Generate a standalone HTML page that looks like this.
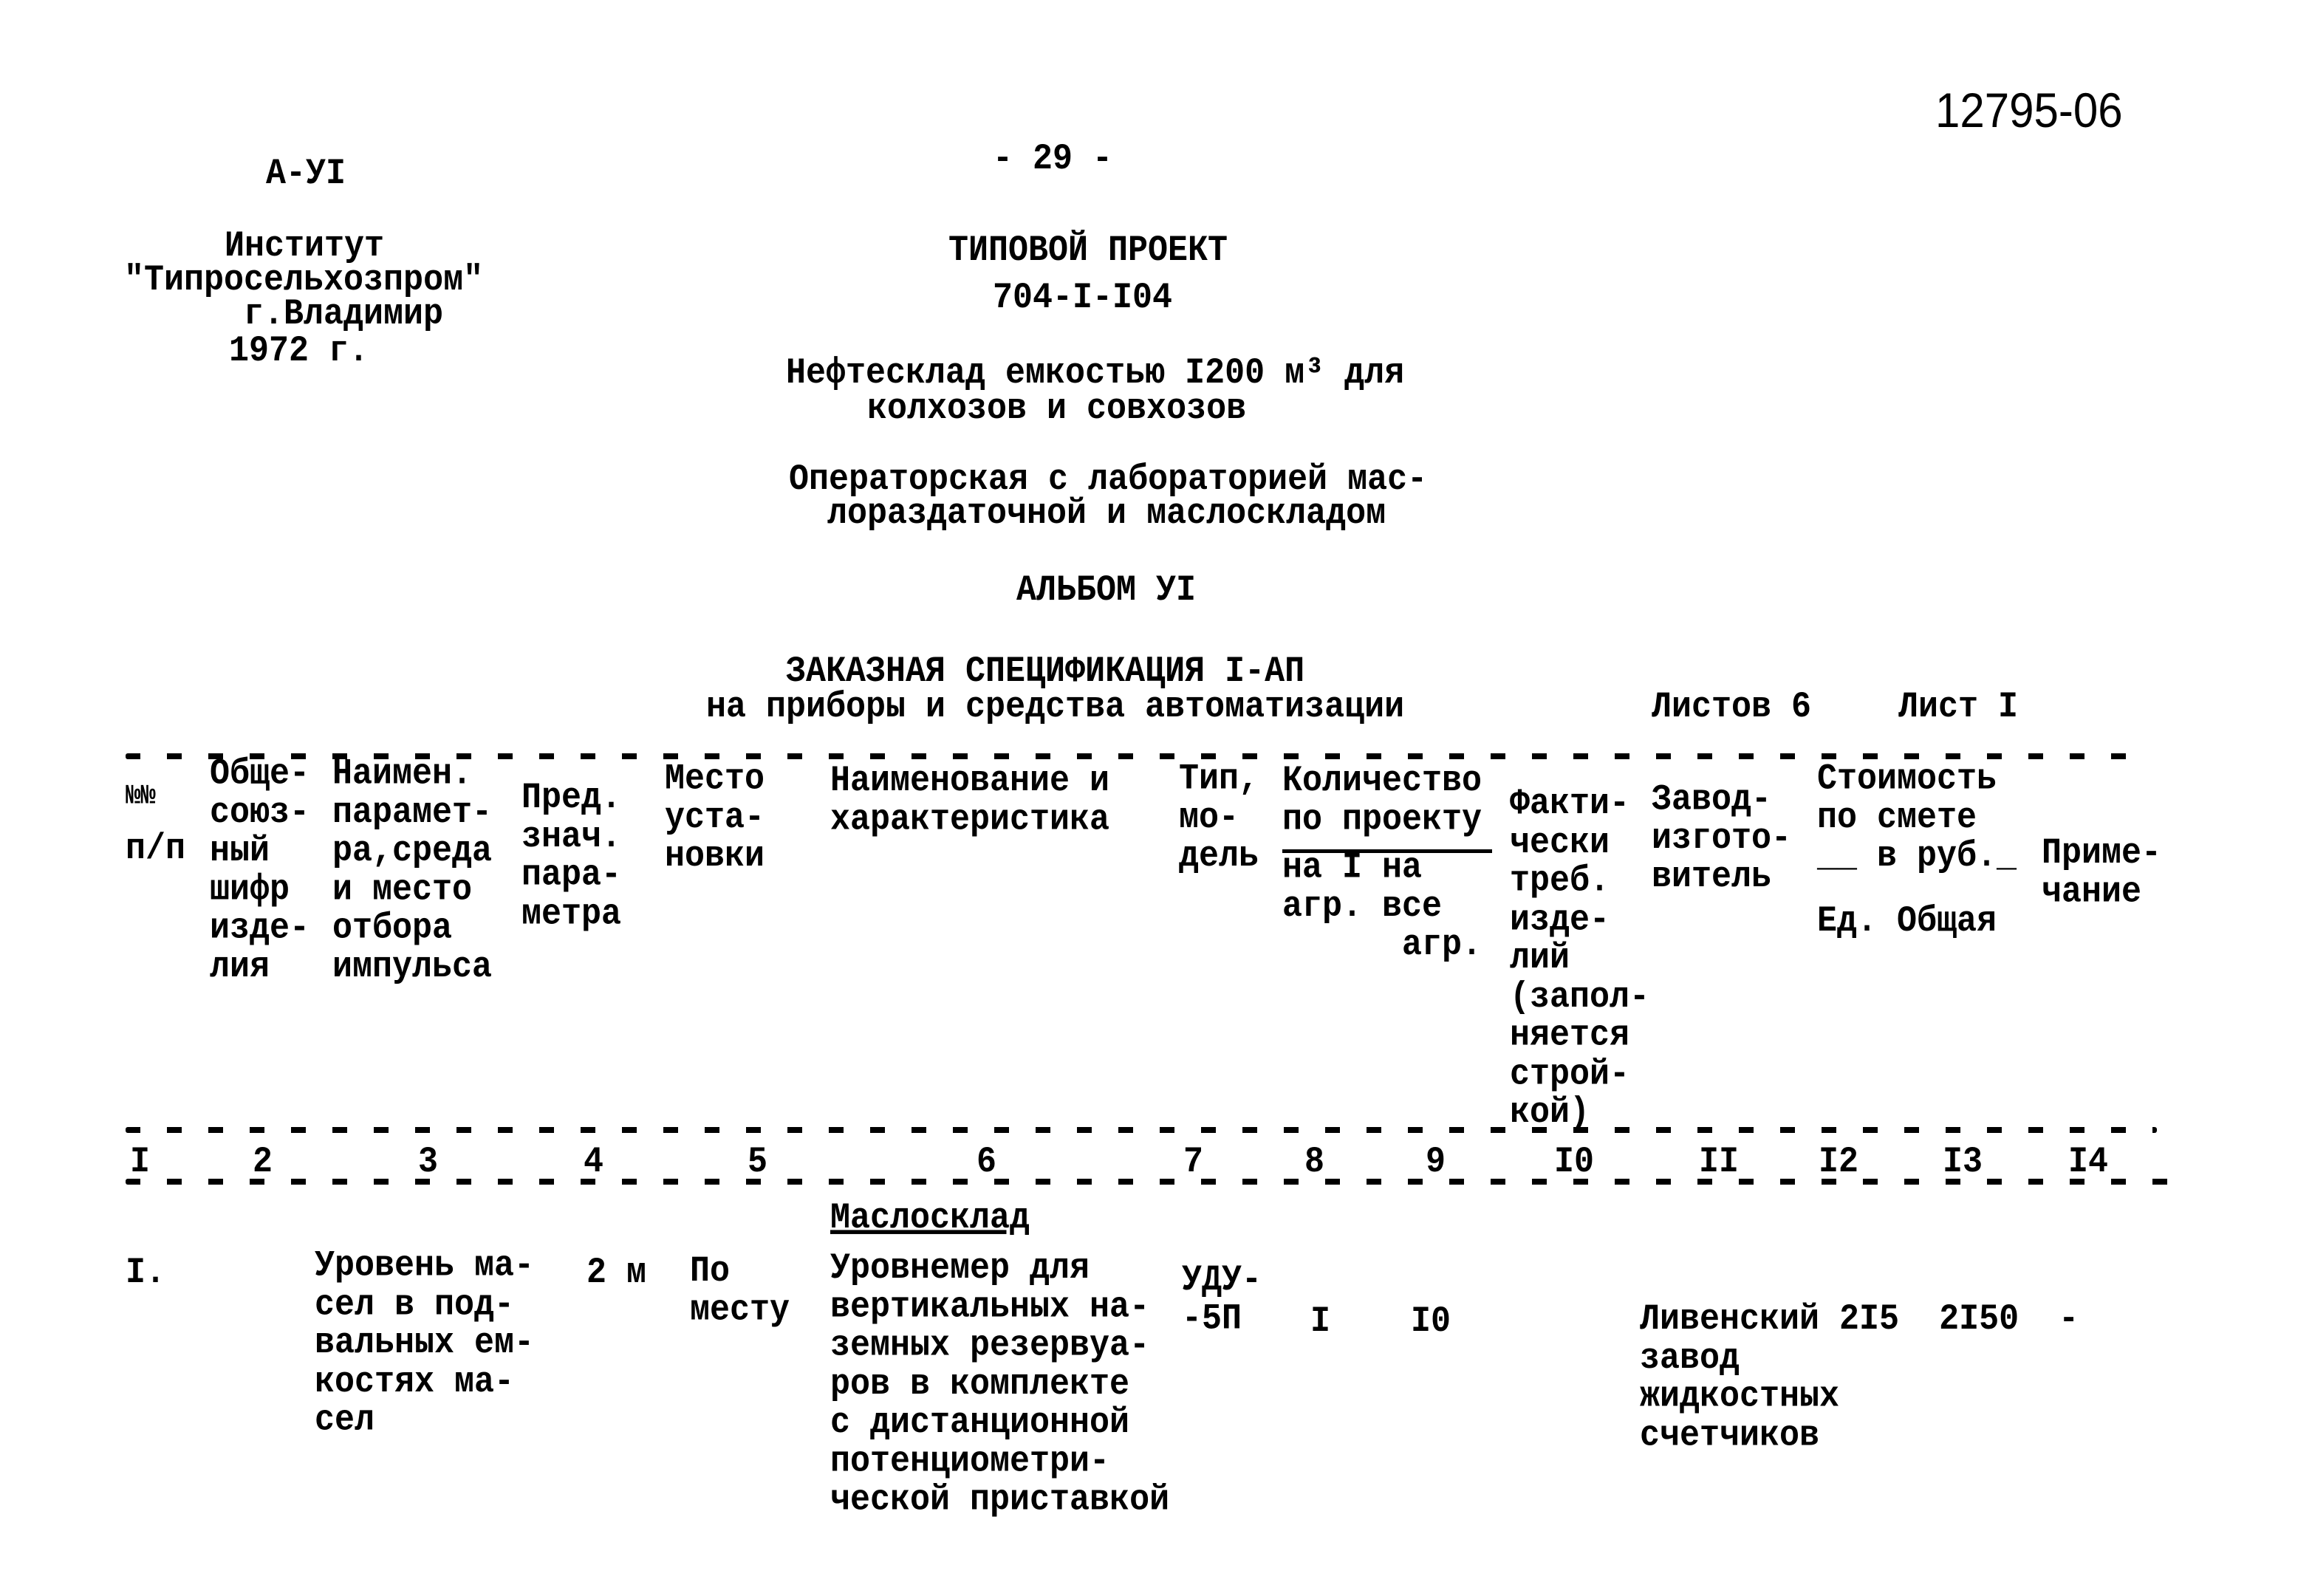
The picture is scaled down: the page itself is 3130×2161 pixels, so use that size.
<!DOCTYPE html>
<html><head><meta charset="utf-8"><style>
body{margin:0;width:3130px;height:2161px;background:#fff;position:relative;overflow:hidden;font-family:"Liberation Mono","DejaVu Sans Mono",monospace;font-weight:bold;color:#000}
.t{position:absolute;font-size:45px;line-height:47.5px;white-space:pre;transform:scaleY(1.1);transform-origin:left center}
.d{position:absolute;height:8px;border-radius:3px;background:repeating-linear-gradient(90deg,#000 0 20px,transparent 20px 56px)}
</style></head><body>
<div class="t" style="left:2620px;top:120px;font-size:60px;line-height:60px;font-family:'Liberation Sans',sans-serif;font-weight:normal">12795-06</div>
<div class="t" style="left:360px;top:212px">А-УI</div>
<div class="t" style="left:1344px;top:192px">- 29 -</div>
<div class="t" style="left:304px;top:310px">Институт</div>
<div class="t" style="left:168px;top:356px">"Типросельхозпром"</div>
<div class="t" style="left:330px;top:402px">г.Владимир</div>
<div class="t" style="left:310px;top:452px">1972 г.</div>
<div class="t" style="left:1284px;top:316px">ТИПОВОЙ ПРОЕКТ</div>
<div class="t" style="left:1344px;top:380px">704-I-I04</div>
<div class="t" style="left:1064px;top:482px">Нефтесклад емкостью I200 м³ для</div>
<div class="t" style="left:1174px;top:530px">колхозов и совхозов</div>
<div class="t" style="left:1068px;top:626px">Операторская с лабораторией мас-</div>
<div class="t" style="left:1120px;top:672px">лораздаточной и маслоскладом</div>
<div class="t" style="left:1376px;top:776px">АЛЬБОМ УI</div>
<div class="t" style="left:1064px;top:886px">ЗАКАЗНАЯ СПЕЦИФИКАЦИЯ I-АП</div>
<div class="t" style="left:956px;top:934px">на приборы и средства автоматизации</div>
<div class="t" style="left:2236px;top:934px">Листов 6</div>
<div class="t" style="left:2570px;top:934px">Лист I</div>

<div class="d" style="left:170px;top:1020px;width:2740px"></div>
<div class="d" style="left:170px;top:1526px;width:2750px"></div>
<div class="d" style="left:170px;top:1596px;width:2770px"></div>

<div class="t" style="left:170px;top:1056px;font-size:34px">№№</div>
<div class="t" style="left:170px;top:1126px">п/п</div>
<div class="t" style="left:284px;top:1036px">Обще-
союз-
ный
шифр
изде-
лия</div>
<div class="t" style="left:450px;top:1036px">Наимен.
парамет-
ра,среда
и место
отбора
импульса</div>
<div class="t" style="left:706px;top:1064px">Пред.
знач.
пара-
метра</div>
<div class="t" style="left:900px;top:1036px">Место
уста-
новки</div>
<div class="t" style="left:1124px;top:1036px">Наименование и
характеристика</div>
<div class="t" style="left:1596px;top:1036px">Тип,
мо-
дель</div>
<div class="t" style="left:1736px;top:1036px">Количество
по проекту</div>
<div style="position:absolute;left:1736px;top:1150px;width:284px;height:5px;background:#000"></div>
<div class="t" style="left:1736px;top:1156px">на I на
агр. все
      агр.</div>
<div class="t" style="left:2044px;top:1084px">Факти-
чески
треб.
изде-
лий
(запол-
няется
строй-
кой)</div>
<div class="t" style="left:2236px;top:1064px">Завод-
изгото-
витель</div>
<div class="t" style="left:2460px;top:1036px">Стоимость
по смете
__ в руб._</div>
<div class="t" style="left:2460px;top:1224px">Ед. Общая</div>
<div class="t" style="left:2764px;top:1134px">Приме-
чание</div>

<div class="t" style="left:176px;top:1550px">I</div>
<div class="t" style="left:342px;top:1550px">2</div>
<div class="t" style="left:566px;top:1550px">3</div>
<div class="t" style="left:790px;top:1550px">4</div>
<div class="t" style="left:1012px;top:1550px">5</div>
<div class="t" style="left:1322px;top:1550px">6</div>
<div class="t" style="left:1602px;top:1550px">7</div>
<div class="t" style="left:1766px;top:1550px">8</div>
<div class="t" style="left:1930px;top:1550px">9</div>
<div class="t" style="left:2104px;top:1550px">I0</div>
<div class="t" style="left:2300px;top:1550px">II</div>
<div class="t" style="left:2462px;top:1550px">I2</div>
<div class="t" style="left:2630px;top:1550px">I3</div>
<div class="t" style="left:2800px;top:1550px">I4</div>

<div class="t" style="left:1124px;top:1626px;text-decoration:underline;text-decoration-thickness:5px">Маслосклад</div>
<div class="t" style="left:170px;top:1700px">I.</div>
<div class="t" style="left:426px;top:1700px">Уровень ма-
сел в под-
вальных ем-
костях ма-
сел</div>
<div class="t" style="left:794px;top:1700px">2 м</div>
<div class="t" style="left:934px;top:1700px">По
месту</div>
<div class="t" style="left:1124px;top:1708px">Уровнемер для
вертикальных на-
земных резервуа-
ров в комплекте
с дистанционной
потенциометри-
ческой приставкой</div>
<div class="t" style="left:1600px;top:1712px">УДУ-
-5П</div>
<div class="t" style="left:1774px;top:1766px">I</div>
<div class="t" style="left:1910px;top:1766px">I0</div>
<div class="t" style="left:2220px;top:1770px">Ливенский 2I5  2I50  -
завод
жидкостных
счетчиков</div>
</body></html>
